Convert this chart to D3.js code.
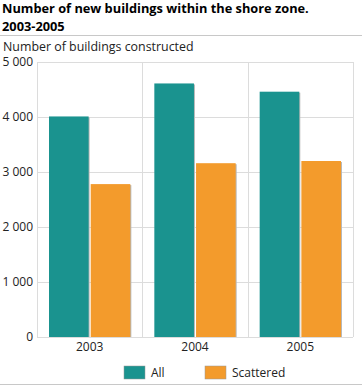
<!DOCTYPE html>
<html>
<head>
<meta charset="utf-8">
<script src="https://cdn.jsdelivr.net/npm/d3@7"></script>
<style>
  body { margin: 0; background: #fff; }
  svg { font-family: "Open Sans", "DejaVu Sans", sans-serif; }
</style>
</head>
<body>
<div id="chart"></div>
<script>
// chart data
var years = ["2003", "2004", "2005"];
var seriesNames = ["All", "Scattered"];
var allValues = [4010, 4610, 4460];
var scatteredValues = [2780, 3160, 3200];
var yTicks = [0, 1000, 2000, 3000, 4000, 5000];

var colors = { "All": "#1a938f", "Scattered": "#f39b2c" };

var W = 362, H = 387;
var svg = d3.select("#chart").append("svg").attr("width", W).attr("height", H);

// title
svg.selectAll("text.title").data(["Number of new buildings within the shore zone.", "2003-2005"])
  .enter().append("text").attr("class", "title")
  .attr("x", 2).attr("y", function(d, i) { return 13 + i * 18; })
  .style("font-size", "12.8px").style("font-weight", "bold").style("fill", "#000")
  .text(function(d) { return d; });

svg.append("line").attr("x1", 0).attr("x2", W).attr("y1", 35.5).attr("y2", 35.5)
  .style("stroke", "#c8c8c8").style("stroke-width", 1);

svg.append("text").attr("x", 3).attr("y", 51)
  .style("font-size", "12.4px").style("fill", "#222")
  .text("Number of buildings constructed");

var plotLeft = 37, plotRight = 353, plotTop = 62, plotBottom = 337;

var x = d3.scaleBand().domain(years).range([plotLeft, plotRight]);
var x1 = d3.scaleBand().domain(seriesNames).range([12, x.bandwidth() - 12]).paddingInner(0.05);
var y = d3.scaleLinear().domain([0, 5000]).range([plotBottom, plotTop]);

// gridlines
svg.append("g").selectAll("line").data(yTicks).enter().append("line")
  .attr("x1", plotLeft).attr("x2", plotRight)
  .attr("y1", function(d) { return Math.round(y(d)) + 0.5; })
  .attr("y2", function(d) { return Math.round(y(d)) + 0.5; })
  .style("stroke", "#dcdcdc");

// vertical dividers
svg.append("g").selectAll("line").data(years.concat(["end"])).enter().append("line")
  .attr("x1", function(d, i) { return Math.round(plotLeft + i * x.bandwidth()) + 0.5; })
  .attr("x2", function(d, i) { return Math.round(plotLeft + i * x.bandwidth()) + 0.5; })
  .attr("y1", plotTop).attr("y2", plotBottom)
  .style("stroke", "#dcdcdc");

// y axis labels
var yAxis = d3.axisLeft(y).tickValues(yTicks).tickSize(0).tickPadding(4)
  .tickFormat(function(d) { return d3.format(",")(d).replace(",", " "); });
var ya = svg.append("g").attr("transform", "translate(" + plotLeft + ",0)").call(yAxis);
ya.select(".domain").remove();
ya.selectAll("text").style("font-size", "12px").style("fill", "#222")
  .style("font-family", "\"Open Sans\", sans-serif");

// x axis labels
var xAxis = d3.axisBottom(x).tickSize(0).tickPadding(5);
var xa = svg.append("g").attr("transform", "translate(0," + plotBottom + ")").call(xAxis);
xa.select(".domain").remove();
xa.selectAll("text").style("font-size", "12px").style("fill", "#222")
  .style("font-family", "\"Open Sans\", sans-serif");

// bars
var rows = years.map(function(yr, i) {
  return { year: yr, values: [
    { key: "All", value: allValues[i] },
    { key: "Scattered", value: scatteredValues[i] }
  ] };
});

var groups = svg.append("g").selectAll("g").data(rows).enter().append("g")
  .attr("transform", function(d) { return "translate(" + x(d.year) + ",0)"; });

// soft shadow behind bars
groups.selectAll("rect.shadow").data(function(d) { return d.values; }).enter().append("rect")
  .attr("class", "shadow")
  .attr("x", function(d) { return x1(d.key) + 1; })
  .attr("y", function(d) { return y(d.value) + 1; })
  .attr("width", x1.bandwidth())
  .attr("height", function(d) { return plotBottom - y(d.value) - 1; })
  .style("fill", "#b8b8b8");

groups.selectAll("rect.bar").data(function(d) { return d.values; }).enter().append("rect")
  .attr("class", "bar")
  .attr("x", function(d) { return x1(d.key); })
  .attr("y", function(d) { return y(d.value); })
  .attr("width", x1.bandwidth())
  .attr("height", function(d) { return plotBottom - y(d.value); })
  .style("fill", function(d) { return colors[d.key]; });

// legend
var legendX = [124, 205];
var lg = svg.append("g").selectAll("g").data(seriesNames).enter().append("g")
  .attr("transform", function(d, i) { return "translate(" + legendX[i] + ",366)"; });
lg.append("rect").attr("width", 21).attr("height", 13)
  .style("fill", function(d) { return colors[d]; })
  .style("stroke", "#999").style("stroke-width", 0.5);
lg.append("text").attr("x", 27).attr("y", 11)
  .style("font-size", "12px").style("fill", "#222")
  .text(function(d) { return d; });

svg.append("line").attr("x1", 0).attr("x2", W).attr("y1", 384.5).attr("y2", 384.5)
  .style("stroke", "#c8c8c8");
</script>
</body>
</html>
